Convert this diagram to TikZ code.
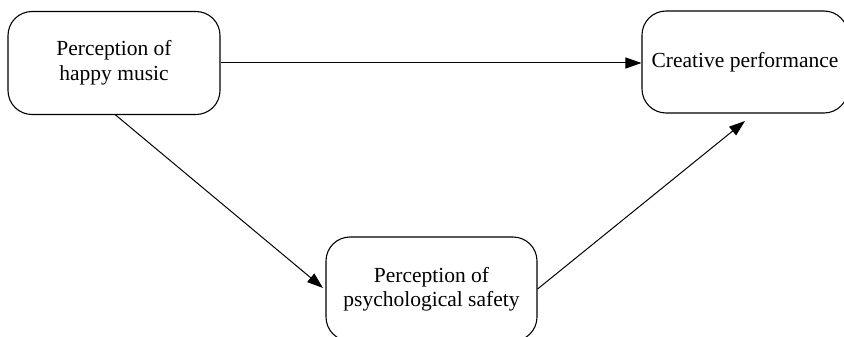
\documentclass[tikz,border=0pt]{standalone}
\usepackage{fontspec}
\setmainfont{Liberation Serif}
\usetikzlibrary{arrows.meta}
\begin{document}
\begin{tikzpicture}[x=1pt,y=-1pt,
  box/.style={draw,line width=1.1pt,rounded corners=24pt,align=center,
    font=\fontsize{21.5}{24.5}\selectfont,inner sep=0pt},
  arr/.style={line width=1pt,-{Triangle[length=16pt,width=11pt]}}]
\useasboundingbox (0,0) rectangle (844,337);
\node[box,minimum width=212pt,minimum height=103pt] (hm) at (114,63) {Perception of\\happy music};
\node[box,minimum width=206pt,minimum height=102pt] (cp) at (745,62) {Creative performance};
\node[box,minimum width=211pt,minimum height=104pt] (ps) at (431.5,289) {Perception of\\psychological safety};
\coordinate (a1) at (115,114.5);
\coordinate (t1) at (323,288);
\coordinate (t2) at (745,121);
\draw[arr] (hm.east |- 0,63) -- (cp.west |- 0,63);
\draw[arr] (a1) -- (t1);
\draw[arr] (ps.east) -- (t2);
\end{tikzpicture}
\end{document}
